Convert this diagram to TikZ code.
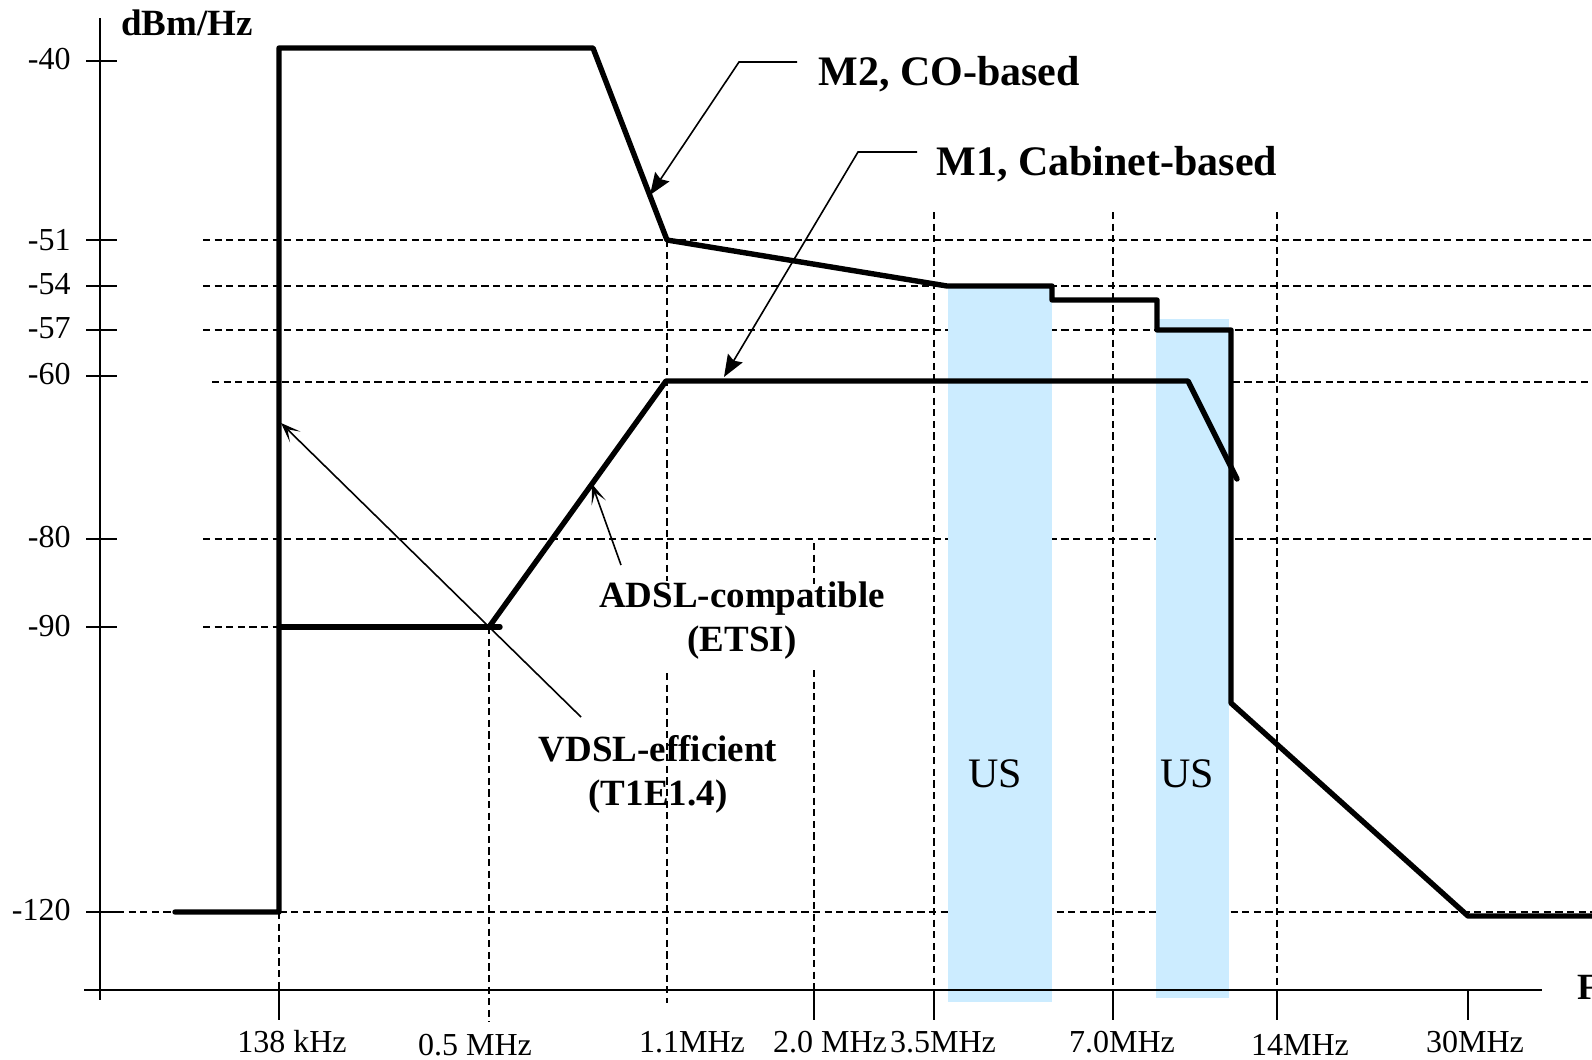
\documentclass[tikz,border=0pt]{standalone}
\usepackage{fontspec}
\setmainfont{Liberation Serif}
\usetikzlibrary{arrows.meta}
\definecolor{usblue}{RGB}{204,236,255}

\begin{document}
\begin{tikzpicture}[x=0.5pt,y=-0.5pt,
  grid/.style={dash pattern=on 3.6pt off 2.2pt, line width=1pt},
  axis/.style={line width=1pt},
  curve/.style={line width=2.7pt, line join=round, line cap=round},
  leader/.style={line width=0.8pt},
  filledtip/.style={-{Stealth[length=11pt,width=8.5pt,inset=1.5pt]}},
  barbtip/.style={-{Stealth[length=10pt,width=7.5pt,inset=5.5pt]}},
  ticklbl/.style={font=\fontsize{16}{18}\selectfont, inner sep=0pt},
  curvelbl/.style={font=\fontsize{21}{25}\selectfont\bfseries, inner sep=0pt},
  notelbl/.style={font=\fontsize{18.5}{22}\selectfont\bfseries, inner sep=0pt, align=center},
  bandlbl/.style={font=\fontsize{21}{25}\selectfont, inner sep=0pt},
]
\useasboundingbox (0,0) rectangle (1592,1060);

% horizontal reference levels
\draw[grid] (203,240) -- (1592,240);
\draw[grid] (203,286) -- (1592,286);
\draw[grid] (203,330) -- (1592,330);
\draw[grid] (212,382) -- (1592,382);
\draw[grid] (203,539) -- (1592,539);
\draw[grid] (203,627) -- (279,627);
\draw[grid] (117,912) -- (1592,912);

% vertical frequency markers
\draw[grid] (279,912) -- (279,990);
\draw[grid] (489,627) -- (489,1022);
\draw[grid] (667,240) -- (667,581);
\draw[grid] (667,673) -- (667,1003);
\draw[grid] (814,543) -- (814,584);
\draw[grid] (814,670) -- (814,990);
\draw[grid] (934,212) -- (934,990);
\draw[grid] (1113,212) -- (1113,990);
\draw[grid] (1277,212) -- (1277,990);

% upstream bands
\fill[usblue] (948,288) rectangle (1052,1002);
\fill[usblue] (1156,319) rectangle (1229,998);

% axes and ticks
\draw[axis] (100,18) -- (100,1000);
\draw[axis] (84,990) -- (1542,990);
\foreach \y in {61,240,286,330,376,539,627,912}
  \draw[axis] (86,\y) -- (117,\y);
\foreach \x in {279,814,934,1113,1277,1468}
  \draw[axis] (\x,990) -- (\x,1020);

% axis labels
\node[notelbl, anchor=base west] (yname) at (121,35) {dBm/Hz};
\node[notelbl, anchor=base west] (xname) at (1577,999) {F};
\node[ticklbl, anchor=east] (y40)  at (71,59)  {-40};
\node[ticklbl, anchor=east] (y51)  at (71,240) {-51};
\node[ticklbl, anchor=east] (y54)  at (71,284) {-54};
\node[ticklbl, anchor=east] (y57)  at (71,328) {-57};
\node[ticklbl, anchor=east] (y60)  at (71,374) {-60};
\node[ticklbl, anchor=east] (y80)  at (71,537) {-80};
\node[ticklbl, anchor=east] (y90)  at (71,626) {-90};
\node[ticklbl, anchor=east] (y120) at (71,910) {-120};
\node[ticklbl, anchor=base] (f138) at (292,1052) {138 kHz};
\node[ticklbl, anchor=base] (f05)  at (475,1055) {0.5 MHz};
\node[ticklbl, anchor=base] (f11)  at (692,1052) {1.1MHz};
\node[ticklbl, anchor=base] (f20)  at (830,1052) {2.0 MHz};
\node[ticklbl, anchor=base] (f35)  at (943,1052) {3.5MHz};
\node[ticklbl, anchor=base] (f70)  at (1122,1052) {7.0MHz};
\node[ticklbl, anchor=base] (f14)  at (1300,1055) {14MHz};
\node[ticklbl, anchor=base] (f30)  at (1475,1052) {30MHz};

% M2 mask (CO-based)
\draw[curve] (175,912) -- (279,912) -- (279,48) -- (593,48) -- (667,240)
  -- (947,286) -- (1052,286) -- (1052,300) -- (1157,300) -- (1157,330)
  -- (1231,330) -- (1231,703) -- (1468,916) -- (1592,916);

% M1 mask (cabinet-based)
\draw[curve] (279,627) -- (500,627);
\draw[curve] (489,627) -- (666,381) -- (1188,381) -- (1237,479);

% band labels
\node[bandlbl] (us1) at (995,774) {US};
\node[bandlbl] (us2) at (1187,774) {US};

% curve labels and leaders
\node[curvelbl, anchor=base west] (m2lbl) at (818,85) {M2, CO-based};
\node[curvelbl, anchor=base west] (m1lbl) at (936,175) {M1, Cabinet-based};
\node[notelbl] (adsl) at (742,621) {ADSL-compatible\\(ETSI)};
\node[notelbl] (vdsl) at (658,774) {VDSL-efficient\\(T1E1.4)};

\coordinate (m2start) at (797,62);
\coordinate (m2bend)  at (739,62);
\coordinate (m2tip)   at (650,195);
\coordinate (m1start) at (917,152);
\coordinate (m1bend)  at (858,152);
\coordinate (m1tip)   at (724,377);
\coordinate (adsltail) at (621,565);
\coordinate (adsltip)  at (592,484);
\coordinate (vdsltail) at (581,717);
\coordinate (vdsltip)  at (281,423);

\draw[leader, filledtip] (m2start) -- (m2bend) -- (m2tip);
\draw[leader, filledtip] (m1start) -- (m1bend) -- (m1tip);
\draw[leader, barbtip] (adsltail) -- (adsltip);
\draw[leader, barbtip] (vdsltail) -- (vdsltip);
\end{tikzpicture}
\end{document}
